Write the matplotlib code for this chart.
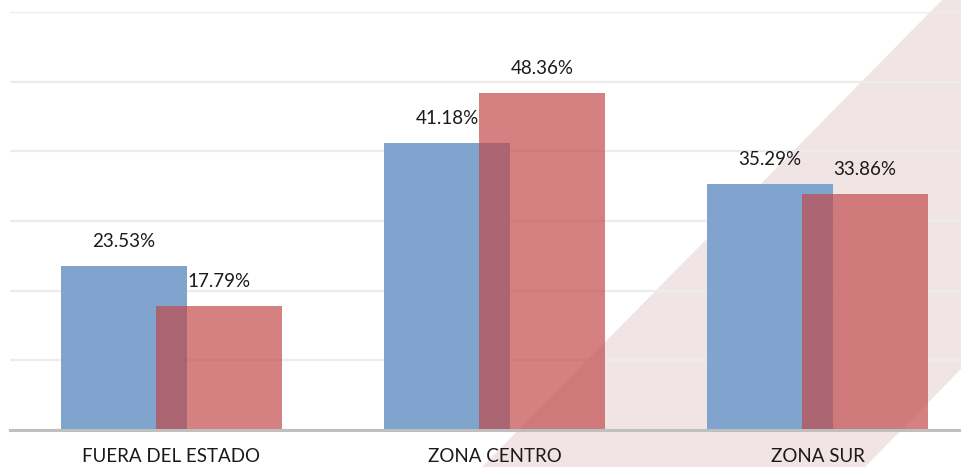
import numpy as np
import matplotlib.pyplot as plt
from matplotlib.patches import Polygon

categorias = ["FUERA DEL ESTADO", "ZONA CENTRO", "ZONA SUR"]
serie_azul = [23.53, 41.18, 35.29]
serie_roja = [17.79, 48.36, 33.86]

plt.rcParams['font.family'] = ['Lato', 'DejaVu Sans']

fig = plt.figure(figsize=(9.61, 4.67), dpi=100)

# franja diagonal de fondo (decorativa)
W, H = 961.0, 467.0
banda = Polygon([(482 / W, 0), (865 / W, 0), (1.0, (467 - 369) / H), (1.0, 1.0), (942 / W, 1.0)],
                closed=True, transform=fig.transFigure, facecolor="#f1e4e5",
                edgecolor="none", zorder=-5)
fig.patches.append(banda)

ax = fig.add_axes([10 / W, 37 / H, 969 / W, 418 / H])
ax.set_facecolor("none")
ax.set_zorder(1)

x = np.arange(len(categorias))
ancho = 0.39
desp = 0.147

b1 = ax.bar(x - desp, serie_azul, ancho, color="#80a4cd", zorder=2)
b2 = ax.bar(x + desp, serie_roja, ancho, color="#c14647", alpha=0.68, zorder=3)

for barras, vals in [(b1, serie_azul), (b2, serie_roja)]:
    for rect, v in zip(barras, vals):
        ax.annotate(f"{v:.2f}%", (rect.get_x() + rect.get_width() / 2, v),
                    xytext=(0, 17.5), textcoords="offset points",
                    ha="center", va="center", fontsize=13.5, color="#1a1a1a", zorder=5)

ax.set_xlim(-0.5, 2.5)
ax.set_ylim(0, 60)
ax.set_yticks(np.arange(0, 61, 10))
ax.set_yticklabels([])
ax.yaxis.grid(True, color="#ececec", linewidth=1.6, zorder=1)
ax.set_axisbelow(True)

ax.set_xticks(x)
ax.set_xticklabels(categorias, fontsize=13.5, color="#1a1a1a")
ax.tick_params(axis="both", length=0)
ax.tick_params(axis="x", pad=13)

for s in ["top", "right", "left"]:
    ax.spines[s].set_visible(False)
ax.spines["bottom"].set_color("#bfbfbf")
ax.spines["bottom"].set_linewidth(2.2)
ax.spines["bottom"].set_zorder(4)

fig.savefig("out.png", dpi=100)
